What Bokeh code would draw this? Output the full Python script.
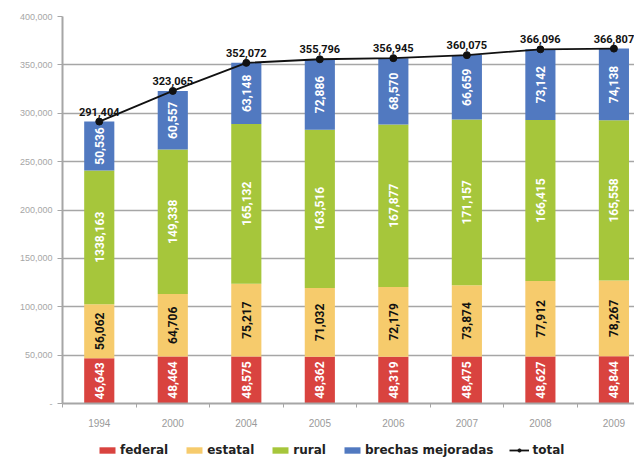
import math
from bokeh.plotting import figure
from bokeh.layouts import column
from bokeh.models import (ColumnDataSource, Range1d, FixedTicker, NumeralTickFormatter,
                          Legend, LegendItem)
from bokeh.core.properties import value
from bokeh.embed import file_html
from bokeh.resources import INLINE

years = ["1994", "2000", "2004", "2005", "2006", "2007", "2008", "2009"]
federal = [46643, 48464, 48575, 48362, 48319, 48475, 48627, 48844]
estatal = [56062, 64706, 75217, 71032, 72179, 73874, 77912, 78267]
rural = [138163, 149338, 165132, 163516, 167877, 171157, 166415, 165558]
brechas = [50536, 60557, 63148, 72886, 68570, 66659, 73142, 74138]
total = [291404, 323065, 352072, 355796, 356945, 360075, 366096, 366807]
rural_labels = ["1338,163", "149,338", "165,132", "163,516", "167,877", "171,157", "166,415", "165,558"]

series_names = ["federal", "estatal", "rural", "brechas mejoradas"]
series = [federal, estatal, rural, brechas]
colors = ["#d9433f", "#f6cb6c", "#a6c63b", "#5179c0"]
label_colors = ["white", "#111111", "white", "white"]

x = list(range(len(years)))

p = figure(width=634, height=429, output_backend="svg", toolbar_location=None,
           x_range=Range1d(-0.5, 7.28), y_range=Range1d(0, 400000),
           min_border_left=62, min_border_right=0, min_border_top=16, min_border_bottom=25)
p.outline_line_color = None
p.background_fill_color = "white"

bar_sources = []
bottoms = [0] * len(years)
for name, vals, col, lcol in zip(series_names, series, colors, label_colors):
    tops = [b + v for b, v in zip(bottoms, vals)]
    src = ColumnDataSource(dict(x=x, bottom=bottoms, top=tops))
    bar_sources.append(src)
    p.vbar(x="x", bottom="bottom", top="top", width=0.41, source=src,
           fill_color=col, line_color=None)
    mids = [b + v / 2 for b, v in zip(bottoms, vals)]
    if name == "rural":
        labels = rural_labels
    else:
        labels = [f"{v:,}" for v in vals]
    lsrc = ColumnDataSource(dict(x=x, y=mids, t=labels))
    p.text(x="x", y="y", text="t", source=lsrc, angle=math.pi / 2,
           text_align="center", text_baseline="middle",
           text_font=value("Roboto"), text_font_style="bold", text_font_size="12px",
           text_color=lcol)
    bottoms = tops

tsrc = ColumnDataSource(dict(x=x, y=total, t=[f"{v:,}" for v in total]))
p.line(x="x", y="y", source=tsrc, line_color="#111111", line_width=1.8)
p.scatter(x="x", y="y", source=tsrc, size=7, fill_color="#111111", line_color="#111111")
p.text(x="x", y="y", text="t", source=tsrc, text_align="center", text_baseline="bottom",
       y_offset=-6, text_font=value("Roboto"), text_font_style="bold",
       text_font_size="11px", text_color="#111111")

# axes
p.xaxis.ticker = FixedTicker(ticks=x, minor_ticks=[i + 0.5 for i in range(-1, 8)])
p.xaxis.major_label_overrides = {i: y for i, y in enumerate(years)}
p.xaxis.major_tick_out = 0
p.xaxis.major_tick_in = 0
p.xaxis.minor_tick_out = 4
p.xaxis.minor_tick_in = 0
p.xaxis.minor_tick_line_color = "#a6a6a6"
p.xaxis.axis_line_color = "#a6a6a6"
p.xaxis.axis_line_width = 2
p.xaxis.major_label_text_color = "#9a9a9a"
p.xaxis.major_label_text_font = "Liberation Sans"
p.xaxis.major_label_text_font_size = "10px"
p.xaxis.major_label_standoff = 11

p.yaxis.ticker = FixedTicker(ticks=list(range(0, 400001, 50000)))
p.yaxis.formatter = NumeralTickFormatter(format="0,0")
p.yaxis.major_label_overrides = {0: "-"}
p.yaxis.minor_tick_line_color = None
p.yaxis.major_tick_out = 5
p.yaxis.major_tick_in = 0
p.yaxis.major_tick_line_color = "#a6a6a6"
p.yaxis.axis_line_color = "#a6a6a6"
p.yaxis.axis_line_width = 2
p.yaxis.major_label_text_color = "#a6a6a6"
p.yaxis.major_label_text_font = "Liberation Sans"
p.yaxis.major_label_text_font_size = "9px"
p.yaxis.major_label_standoff = 5

p.xgrid.grid_line_color = None
p.ygrid.grid_line_color = "#a6a6a6"
p.ygrid.grid_line_width = 1.5

# legend strip: same sources, viewed through ranges where the data is out of view,
# so only the legend entries show
lg = figure(width=634, height=30, output_backend="svg", toolbar_location=None,
            x_range=Range1d(-1000, -999), y_range=Range1d(-1000, -999), min_border=0)
lg.axis.visible = False
lg.grid.grid_line_color = None
lg.outline_line_color = None
items = []
for name, col, src in zip(series_names, colors, bar_sources):
    r = lg.vbar(x="x", bottom="bottom", top="top", width=0.41, source=src,
                fill_color=col, line_color=None)
    items.append(LegendItem(label=name, renderers=[r]))
lr = lg.line(x="x", y="y", source=tsrc, line_color="#111111", line_width=1.8)
cr = lg.scatter(x="x", y="y", source=tsrc, size=6, fill_color="#111111", line_color="#111111")
items.append(LegendItem(label="total", renderers=[lr, cr]))

legend = Legend(items=items, orientation="horizontal", location=(35, 2),
                glyph_width=20, glyph_height=8, label_standoff=3, spacing=16,
                padding=2, margin=0, border_line_color=None, background_fill_alpha=0,
                label_text_font="DejaVu Sans", label_text_font_style="bold",
                label_text_font_size="12px", label_text_color="#222222")
lg.add_layout(legend, "center")

layout = column(p, lg, spacing=0)
open("out.html", "w").write(file_html(layout, INLINE))
